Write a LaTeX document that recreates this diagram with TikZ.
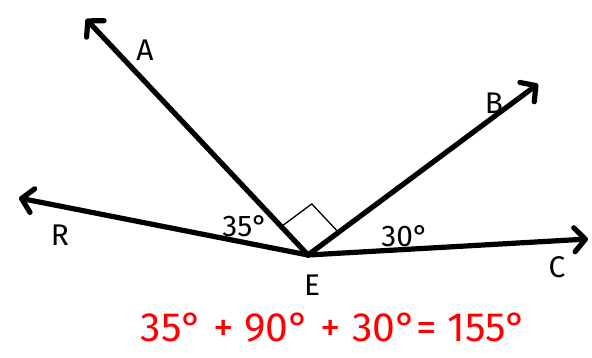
\documentclass[tikz,border=0pt]{standalone}
\usepackage{fontspec}
\setmainfont{Fira Sans}
\usetikzlibrary{arrows.meta,calc}
\begin{document}
\begin{tikzpicture}[x=1bp,y=-1bp,
  ray/.style={line width=5.2bp, line cap=round, line join=round,
    -{Straight Barb[length=11bp,width=24bp,line width=5.2bp,round]}},
  lbl/.style={font=\fontsize{30}{32}\selectfont, inner sep=0pt},
  eqn/.style={font=\fontsize{41}{44}\selectfont, text=red, inner sep=0pt}]
\useasboundingbox (0,0) rectangle (592,357);
\coordinate (E) at (308,255);
\coordinate (A) at (86,19);
\coordinate (B) at (538,84);
\coordinate (R) at (19,198);
\coordinate (C) at (588,239);
\draw[ray] (E) -- (A);
\draw[ray] (E) -- (B);
\draw[ray] (E) -- (R);
\draw[ray] (E) -- (C);
\coordinate (m1) at ($(E)!39bp!(A)$);
\coordinate (m3) at ($(E)!38bp!(B)$);
\coordinate (m2) at ($(m1)+(m3)-(E)$);
\draw[line width=1.3bp, line join=miter] (m1) -- (m2) -- (m3);
\node[lbl] (lA) at (145,50) {A};
\node[lbl] (lB) at (494,103) {B};
\node[lbl] (lR) at (60,235) {R};
\node[lbl] (lC) at (557,267) {C};
\node[lbl] (lE) at (312,285) {E};
\node[lbl] (a35) at (245,226) {35°};
\node[lbl] (a30) at (405,236) {30°};
\node[eqn] (eq) at (334,328) {35° + 90° + 30°= 155°};
\end{tikzpicture}
\end{document}
